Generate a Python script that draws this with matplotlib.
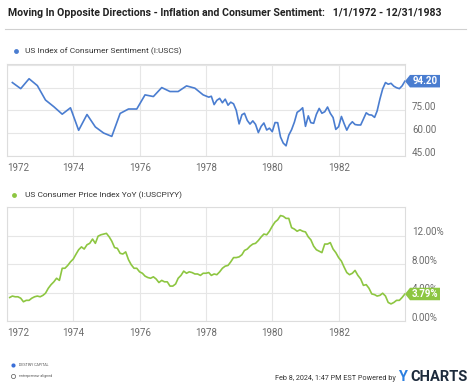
import matplotlib
matplotlib.use('Agg')
import matplotlib.pyplot as plt
import matplotlib.transforms as mtransforms
from matplotlib.patches import Polygon
from matplotlib.lines import Line2D
import pandas as pd

plt.rcParams['font.family'] = ['Roboto', 'DejaVu Sans']

# Consumer sentiment: quarterly readings until 1977, monthly from 1978
sent_quarterly = [93.3, 89.3, 95.8, 91.3,
                  81.8, 77.4, 72.5, 76.7,
                  61.9, 72.3, 64.1, 60.1,
                  57.9, 73.0, 75.9, 75.9,
                  85.2, 84.1, 90.0, 87.4,
                  87.4, 91.1, 89.6, 85.2]
sent_monthly = [83.7, 84.3, 78.8, 81.6, 82.9, 80.0, 82.4, 78.4, 80.4, 79.3, 75.0, 66.1,
                72.1, 73.1, 68.4, 66.0, 68.1, 65.8, 60.4, 64.5, 66.7, 62.1, 63.3, 61.0,
                67.0, 66.9, 57.5, 53.5, 51.7, 58.7, 62.3, 67.3, 73.7, 75.0, 76.7, 64.5,
                71.4, 66.9, 66.5, 72.4, 76.3, 73.1, 74.1, 77.2, 73.1, 70.3, 62.5, 64.3,
                71.0, 66.5, 62.0, 65.5, 67.5, 65.7, 65.4, 65.4, 69.3, 73.4, 72.1, 71.9,
                70.4, 74.6, 82.5, 89.1, 93.3, 92.2, 92.8, 90.9, 89.9, 89.3, 91.1, 94.2]

# CPI year-over-year, monthly 1972-1983 (%)
cpi_yoy = [3.3, 3.5, 3.4, 3.4, 3.2, 2.7, 2.9, 2.9, 3.2, 3.4, 3.5, 3.4,
           3.6, 3.9, 4.6, 5.1, 5.5, 6.0, 5.7, 7.4, 7.4, 7.8, 8.3, 8.7,
           9.4, 10.0, 10.4, 10.1, 10.7, 10.9, 11.5, 10.9, 11.9, 12.1, 12.2, 12.3,
           11.8, 11.2, 10.3, 10.2, 9.5, 9.4, 9.7, 8.6, 7.9, 7.4, 7.4, 6.9,
           6.7, 6.3, 6.1, 6.0, 6.2, 5.9, 5.4, 5.7, 5.5, 5.5, 4.9, 4.9,
           5.2, 6.0, 6.4, 7.0, 6.7, 6.9, 6.8, 6.6, 6.6, 6.4, 6.7, 6.7,
           6.8, 6.4, 6.6, 6.5, 6.9, 7.4, 7.7, 7.8, 8.3, 8.9, 8.9, 9.0,
           9.3, 9.9, 10.1, 10.5, 10.8, 10.9, 11.3, 11.8, 12.2, 12.1, 12.6, 13.3,
           13.9, 14.2, 14.8, 14.7, 14.4, 14.4, 13.1, 12.9, 12.6, 12.8, 12.6, 12.5,
           11.8, 11.4, 10.5, 10.0, 9.8, 9.6, 10.8, 10.8, 11.0, 10.1, 9.6, 8.9,
           8.4, 7.6, 6.8, 6.5, 6.7, 7.1, 6.4, 5.9, 5.0, 5.1, 4.6, 3.8,
           3.7, 3.5, 3.6, 3.9, 3.5, 2.6, 2.4, 2.6, 2.9, 2.9, 3.3, 3.79]

year_labels = ['1972', '1974', '1976', '1978', '1980', '1982']
sent_ticks = [45, 60, 75, 90, 105]
sent_tick_labels = ['45.00', '60.00', '75.00', '', '']
cpi_ticks = [0, 4, 8, 12, 16]
cpi_tick_labels = ['0.00%', '4.00%', '8.00%', '12.00%', '']

sent_dates = pd.date_range('1972-02-29', periods=len(sent_quarterly), freq='3ME').append(
    pd.date_range('1978-01-31', periods=len(sent_monthly), freq='ME'))
sent_values = sent_quarterly + sent_monthly
cpi_dates = pd.date_range('1972-01-31', periods=len(cpi_yoy), freq='ME')

BLUE = '#4a7dd0'
GREEN = '#8dc641'
W, H = 474, 387

fig = plt.figure(figsize=(W / 100, H / 100), dpi=100)
ax1 = fig.add_axes([7 / W, 1 - 156 / H, 398 / W, 92 / H])
ax2 = fig.add_axes([7 / W, 1 - 321 / H, 398 / W, 114 / H])


def style(ax, yticks, ylabels, ylim):
    ax.set_xlim(pd.Timestamp('1972-01-01'), pd.Timestamp('1984-01-01'))
    ax.set_ylim(*ylim)
    ax.yaxis.tick_right()
    ax.set_yticks(yticks)
    ax.set_yticklabels(ylabels)
    ax.set_xticks(pd.to_datetime([y + '-01-01' for y in year_labels]))
    ax.set_xticklabels(year_labels)
    ax.tick_params(length=0, labelsize=7, labelcolor='#6b6b6b')
    ax.tick_params(axis='y', pad=5)
    ax.tick_params(axis='x', pad=5)
    ax.grid(color='#e6e6e6', lw=0.8)
    ax.set_axisbelow(True)
    for s in ax.spines.values():
        s.set_color('#dddddd')
        s.set_linewidth(0.8)
    # ycharts puts value labels a little above their grid lines
    up = mtransforms.ScaledTranslation(0, 3 / 72, fig.dpi_scale_trans)
    for lab in ax.get_yticklabels():
        lab.set_transform(lab.get_transform() + up)
    ax.get_xticklabels()[0].set_horizontalalignment('left')


def flag(ax, val, txt, color):
    anchor = mtransforms.blended_transform_factory(ax.transAxes, ax.transData)
    tr = fig.dpi_scale_trans + mtransforms.ScaledTranslation(1.0, val, anchor)
    tip, w, h = 0.05, 0.30, 0.125
    pts = [(0, 0), (tip, h / 2), (tip + w, h / 2), (tip + w, -h / 2), (tip, -h / 2)]
    ax.add_patch(Polygon(pts, closed=True, transform=tr, fc=color, ec='none',
                         clip_on=False, zorder=5))
    ax.text(tip + w / 2, 0, txt, transform=tr, ha='center', va='center',
            color='white', fontsize=7, fontweight='bold', zorder=6, clip_on=False)


ax1.plot(sent_dates, sent_values, color=BLUE, lw=1.2, solid_joinstyle='round')
style(ax1, sent_ticks, sent_tick_labels, (45, 105.5))
flag(ax1, sent_values[-1], '%.2f' % sent_values[-1], BLUE)

ax2.plot(cpi_dates, cpi_yoy, color=GREEN, lw=1.2, solid_joinstyle='round')
style(ax2, cpi_ticks, cpi_tick_labels, (0, 15.8))
flag(ax2, cpi_yoy[-1], '%.2f%%' % cpi_yoy[-1], GREEN)

# title and rule
fig.text(8 / W, 1 - 12.5 / H,
         'Moving In Opposite Directions - Inflation and Consumer Sentiment:   1/1/1972 - 12/31/1983',
         family=['Liberation Sans Narrow', 'Roboto'], fontsize=7.6, fontweight='bold',
         color='#222222', va='center')
fig.add_artist(Line2D([5 / W, 466 / W], [1 - 29 / H, 1 - 29 / H], color='#d0d0d0', lw=0.8))

# legends
fig.add_artist(Line2D([16 / W], [1 - 51 / H], marker='o', ms=3.5, color=BLUE, mec='none'))
fig.text(25 / W, 1 - 51 / H, 'US Index of Consumer Sentiment (I:USCS)',
         fontsize=6.0, color='#333333', va='center')
fig.add_artist(Line2D([14 / W], [1 - 195 / H], marker='o', ms=3.5, color=GREEN, mec='none'))
fig.text(25 / W, 1 - 195 / H, 'US Consumer Price Index YoY (I:USCPIYY)',
         fontsize=6.0, color='#333333', va='center')

# footer
fig.add_artist(Line2D([13 / W], [1 - 365 / H], marker='o', ms=3, color='#3b6fd8', mec='none'))
fig.text(19 / W, 1 - 365 / H, 'DESTINY CAPITAL', fontsize=2.6, color='#555555', va='center')
fig.add_artist(Line2D([13 / W], [1 - 375.5 / H], marker='o', ms=3, mfc='none', mec='#555555', mew=0.5))
fig.text(19 / W, 1 - 375.5 / H, 'entrepreneur aligned', fontsize=2.6, color='#555555', va='center')
fig.text(396 / W, 1 - 378 / H, 'Feb 8, 2024, 1:47 PM EST Powered by', fontsize=5.2,
         color='#333333', va='center', ha='right')
fig.text(398 / W, 1 - 377 / H, 'Y', fontsize=10.5, fontweight='bold', color='#2b7fe0', va='center')
fig.text(410 / W, 1 - 377 / H, 'CHARTS', fontsize=10.5, fontweight='bold', color='#1d2b3c', va='center')

fig.savefig('out.png', dpi=100)
